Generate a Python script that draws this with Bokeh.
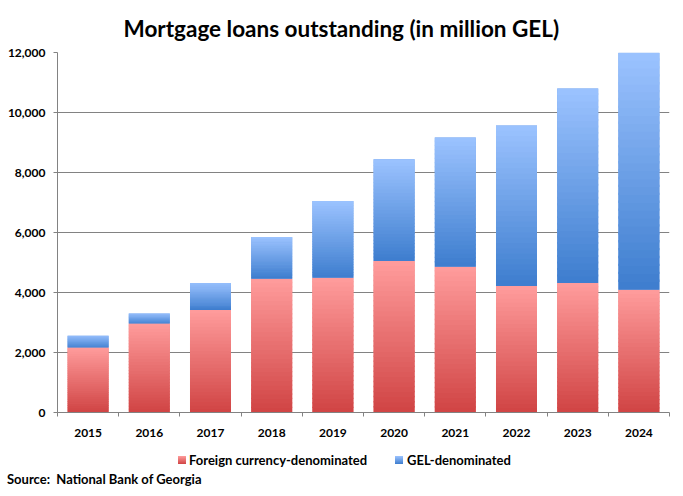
from bokeh.plotting import figure
from bokeh.layouts import column
from bokeh.models import (Div, FixedTicker, NumeralTickFormatter, Range1d, ColumnDataSource)
from bokeh.embed import file_html
from bokeh.resources import INLINE

# ---- data ----
years = ["2015", "2016", "2017", "2018", "2019", "2020", "2021", "2022", "2023", "2024"]
foreign = [2170, 2970, 3420, 4460, 4490, 5050, 4860, 4220, 4320, 4090]
gel = [390, 330, 900, 1390, 2560, 3390, 4310, 5350, 6480, 7900]
y_ticks = [0, 2000, 4000, 6000, 8000, 10000, 12000]
series_names = ["Foreign currency-denominated", "GEL-denominated"]
series_colors = ["#EE7A7A", "#6FA0E8"]
grad_bottom = ["#D04444", "#3D7DCE"]
grad_top = ["#FF9C9C", "#9CC3FF"]
source_text = "Source:&nbsp; National Bank of Georgia"

FONT = "Lato"
GRID = "#828282"
W = 675

n = len(years)
centers = [i + 0.5 for i in range(n)]
totals = [f + g for f, g in zip(foreign, gel)]

p = figure(width=W, height=442, output_backend="svg", toolbar_location=None,
           x_range=Range1d(0, n), y_range=Range1d(0, 12000),
           min_border_left=57, min_border_right=6, min_border_top=52, min_border_bottom=30)
p.outline_line_color = None
p.background_fill_color = "white"
p.border_fill_color = "white"

p.title.text = "Mortgage loans outstanding (in million GEL)"
p.title.align = "left"
p.title.offset = 66
p.title.standoff = 22
p.title.text_font = FONT
p.title.text_font_style = "bold"
p.title.text_font_size = "22.5px"
p.title.text_color = "black"

# base bars
src = ColumnDataSource(dict(x=centers, foreign=foreign, gel=gel, years=years))
p.vbar_stack(["foreign", "gel"], x="x", width=0.67, source=src,
             color=series_colors, line_color=None)


def hex2rgb(h):
    h = h.lstrip("#")
    return tuple(int(h[i:i + 2], 16) for i in (0, 2, 4))


def lerp(c0, c1, t):
    a, b = hex2rgb(c0), hex2rgb(c1)
    return "#%02x%02x%02x" % tuple(int(round(a[k] + (b[k] - a[k]) * t)) for k in range(3))


# gradient overlay slices derived from the data values
NS = 30
gx, gb, gt, gc = [], [], [], []
for i in range(n):
    for s, (b0, t0) in enumerate([(0, foreign[i]), (foreign[i], totals[i])]):
        h = (t0 - b0) / NS
        for k in range(NS):
            gx.append(centers[i])
            gb.append(b0 + k * h)
            gt.append(b0 + (k + 1) * h + (h * 0.3 if k < NS - 1 else 0))
            gc.append(lerp(grad_bottom[s], grad_top[s], (k + 0.5) / NS))
p.vbar(x=gx, bottom=gb, top=gt, width=0.67, fill_color=gc, line_color=None)

# axes
p.yaxis.ticker = FixedTicker(ticks=y_ticks)
p.yaxis.formatter = NumeralTickFormatter(format="0,0")
p.yaxis.axis_line_color = GRID
p.yaxis.major_tick_line_color = GRID
p.yaxis.major_tick_out = 4
p.yaxis.major_tick_in = 0
p.yaxis.minor_tick_line_color = None
p.yaxis.major_label_text_font = FONT
p.yaxis.major_label_text_font_style = "bold"
p.yaxis.major_label_text_font_size = "12px"
p.yaxis.major_label_text_color = "black"
p.yaxis.major_label_standoff = 8

p.xaxis.ticker = FixedTicker(ticks=centers, minor_ticks=list(range(n + 1)))
p.xaxis.major_label_overrides = {c: y for c, y in zip(centers, years)}
p.xaxis.axis_line_color = GRID
p.xaxis.major_tick_line_color = None
p.xaxis.minor_tick_line_color = GRID
p.xaxis.minor_tick_out = 4
p.xaxis.minor_tick_in = 0
p.xaxis.major_label_text_font = FONT
p.xaxis.major_label_text_font_style = "bold"
p.xaxis.major_label_text_font_size = "12px"
p.xaxis.major_label_text_color = "black"
p.xaxis.major_label_standoff = 10

p.xgrid.grid_line_color = None
p.ygrid.grid_line_color = GRID
p.ygrid.grid_line_width = 1

# ---- footer: legend and source (HTML) ----
legend_pos = [(178, 189), (395, 407)]
parts = []
for (sx, tx), name, cb, ct in zip(legend_pos, series_names, grad_bottom, grad_top):
    parts.append(
        f'<span style="position:absolute;left:{sx}px;top:14px;width:8px;height:8px;'
        f'background:linear-gradient(to bottom,{ct},{cb});"></span>'
        f'<span style="position:absolute;left:{tx}px;top:10px;line-height:16px;">{name}</span>')
parts.append(f'<span style="position:absolute;left:7px;top:29px;line-height:16px;">{source_text}</span>')
html = (f'<div style="position:relative;width:{W}px;height:46px;font-family:Lato;'
        f'font-weight:bold;font-size:13px;color:black;white-space:nowrap;">' + "".join(parts) + "</div>")
footer = Div(text=html, width=W, height=46, margin=0)

layout = column(p, footer, spacing=0)
open("out.html", "w").write(file_html(layout, INLINE))
